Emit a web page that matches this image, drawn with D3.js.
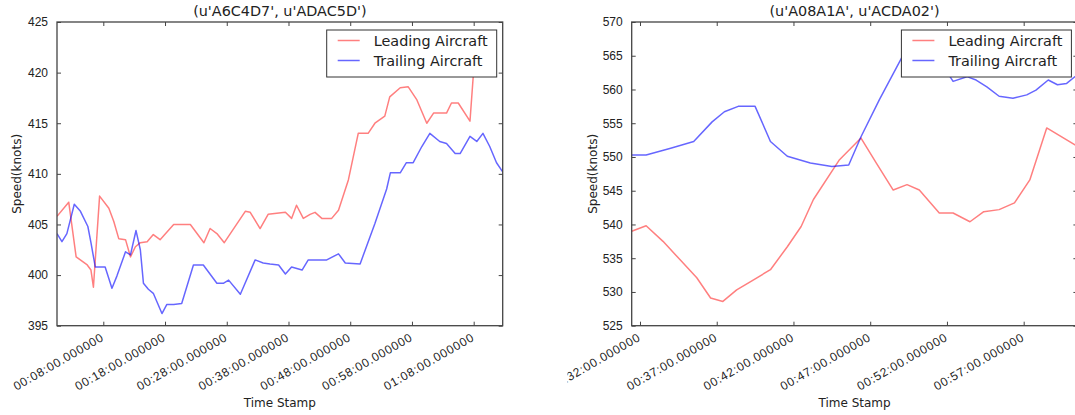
<!DOCTYPE html>
<html>
<head>
<meta charset="utf-8">
<script src="https://cdn.jsdelivr.net/npm/d3@7"></script>
<style>
  html, body { margin: 0; padding: 0; background: #fff; }
  svg { display: block; font-family: "DejaVu Sans", sans-serif; }
</style>
</head>
<body>
<svg id="chart" width="1075" height="415"></svg>
<script>
// ---- Pair 1: (u'A6C4D7', u'ADAC5D') — times in minutes, speeds in knots
const pair1Title = "(u'A6C4D7', u'ADAC5D')";
const pair1LeadTime = [0.5, 2.4, 3.6, 5.4, 6.0, 6.4, 7.4, 8.9, 9.7, 10.5, 11.6, 12.4, 13.2, 14.0, 15.1,
  16.1, 17.2, 19.4, 22.1, 24.3, 25.3, 26.4, 27.6, 31.0, 31.8, 33.4, 34.7, 37.5, 38.5, 39.3, 40.4,
  41.5, 42.3, 43.4, 45.0, 46.1, 47.7, 49.3, 50.9, 52.0, 53.6, 54.4, 56.1, 57.4, 58.8, 60.4, 61.5,
  63.6, 64.4, 65.5, 67.4, 68.4];
const pair1LeadSpeed = [405.8, 407.2, 401.8, 401.0, 400.5, 398.8, 407.8, 406.6, 405.3, 403.6, 403.5,
  401.8, 402.8, 403.2, 403.3, 404.0, 403.5, 405.0, 405.0, 403.2, 404.6, 404.1, 403.2, 406.3, 406.2,
  404.6, 406.0, 406.2, 405.6, 406.9, 405.6, 406.0, 406.2, 405.6, 405.6, 406.4, 409.4, 414.0, 414.0,
  415.0, 415.7, 417.6, 418.5, 418.6, 417.3, 415.0, 416.0, 416.0, 417.0, 417.0, 415.2, 423.6];
const pair1TrailTime = [0.5, 1.3, 2.1, 3.3, 4.3, 5.5, 6.0, 6.7, 7.5, 8.3, 9.4, 10.2, 11.6, 12.4, 13.3,
  14.0, 14.5, 15.3, 16.1, 17.5, 18.3, 19.4, 20.7, 22.6, 24.2, 26.4, 27.5, 28.3, 30.2, 32.6, 33.9,
  35.0, 36.4, 37.5, 38.5, 40.2, 41.2, 42.6, 44.2, 46.1, 47.2, 49.6, 52.0, 53.9, 54.5, 56.1, 57.1,
  58.2, 59.6, 60.9, 62.5, 63.6, 65.0, 65.8, 67.4, 68.5, 69.5, 70.6, 71.7, 72.7];
const pair1TrailSpeed = [404.1, 403.3, 404.1, 407.0, 406.3, 404.8, 403.2, 400.8, 400.8, 400.8, 398.7,
  399.9, 402.3, 402.0, 404.4, 402.5, 399.2, 398.6, 398.2, 396.2, 397.1, 397.1, 397.2, 401.0, 401.0,
  399.2, 399.2, 399.5, 398.1, 401.5, 401.2, 401.1, 401.0, 400.1, 400.8, 400.5, 401.5, 401.5, 401.5,
  402.1, 401.2, 401.1, 405.1, 408.5, 410.1, 410.1, 411.1, 411.1, 412.7, 414.0, 413.2, 413.0, 412.0,
  412.0, 413.7, 413.2, 414.0, 412.7, 411.1, 410.2];
const pair1SpeedTicks = [395, 400, 405, 410, 415, 420, 425];
const pair1TimeTicks = [8, 18, 28, 38, 48, 58, 68];

// ---- Pair 2: (u'A08A1A', u'ACDA02')
const pair2Title = "(u'A08A1A', u'ACDA02')";
const pair2LeadTime = [31.46, 32.4, 33.5, 34.6, 35.7, 36.6, 37.4, 38.3, 39.4, 40.5, 41.6, 42.5, 43.3,
  45.0, 46.4, 47.4, 48.5, 49.4, 50.2, 51.5, 52.4, 53.5, 54.4, 55.4, 56.4, 57.4, 58.5, 60.5];
const pair2LeadSpeed = [539.0, 539.8, 537.5, 534.8, 532.1, 529.1, 528.6, 530.3, 531.8, 533.3, 536.7,
  539.7, 543.7, 549.6, 552.8, 549.1, 545.1, 545.9, 545.1, 541.7, 541.7, 540.4, 541.9, 542.2, 543.2,
  546.6, 554.3, 551.6];
const pair2TrailTime = [31.46, 32.4, 34.0, 35.5, 36.7, 37.5, 38.4, 39.5, 40.5, 41.6, 43.1, 44.5, 45.6,
  46.4, 47.6, 49.1, 49.9, 51.2, 52.2, 52.4, 53.3, 53.9, 54.6, 55.4, 56.3, 57.2, 57.8, 58.6, 59.2,
  59.8, 60.5];
const pair2TrailSpeed = [550.3, 550.3, 551.3, 552.3, 555.2, 556.7, 557.5, 557.5, 552.3, 550.1, 549.1,
  548.6, 548.8, 553.0, 558.5, 564.9, 566.0, 564.0, 561.9, 561.2, 561.9, 561.4, 560.4, 559.0, 558.7,
  559.2, 559.9, 561.4, 560.7, 560.9, 562.2];
const pair2SpeedTicks = [525, 530, 535, 540, 545, 550, 555, 560, 565, 570];
const pair2TimeTicks = [32, 37, 42, 47, 52, 57];

const seriesNames = ["Leading Aircraft", "Trailing Aircraft"];
const seriesColors = ["rgba(255,0,0,0.5)", "rgba(0,0,255,0.6)"];

const svg = d3.select("#chart");
const pad2 = n => String(n).padStart(2, "0");
const fmtTime = m => pad2(Math.floor(m / 60)) + ":" + pad2(m % 60) + ":00.000000";

function drawPanel(cfg) {
  const { id, left, right, top, bottom, clipLeft } = cfg;
  const g = svg.append("g");
  if (clipLeft !== undefined) {
    svg.append("clipPath").attr("id", id + "-panel")
      .append("rect").attr("x", clipLeft).attr("y", 0).attr("width", 1075 - clipLeft).attr("height", 415);
    g.attr("clip-path", `url(#${id}-panel)`);
  }

  const allT = cfg.lead[0].concat(cfg.trail[0]);
  const x = d3.scaleLinear().domain(d3.extent(allT)).range([left, right]);
  const y = d3.scaleLinear().domain(d3.extent(cfg.yTicks)).range([bottom, top]);

  g.append("clipPath").attr("id", id + "-plot")
    .append("rect").attr("x", left).attr("y", top).attr("width", right - left).attr("height", bottom - top);

  const line = d3.line().x(d => x(d[0])).y(d => y(d[1]));
  const plot = g.append("g").attr("clip-path", `url(#${id}-plot)`);
  [cfg.lead, cfg.trail].forEach((s, i) => {
    plot.append("path")
      .datum(d3.zip(s[0], s[1]))
      .attr("d", line)
      .attr("fill", "none")
      .attr("stroke", seriesColors[i])
      .attr("stroke-width", 1.5)
      .attr("stroke-linejoin", "round");
  });

  // ticks pointing inward on all four sides
  const tickLen = 4;
  const axisColor = "#444";
  const bottomAxis = d3.axisBottom(x).tickValues(cfg.xTicks).tickSize(-tickLen).tickFormat(fmtTime);
  const gx = g.append("g").attr("transform", `translate(0,${bottom})`).call(bottomAxis);
  gx.select(".domain").remove();
  gx.selectAll(".tick line").attr("stroke", axisColor);
  gx.selectAll(".tick text")
    .attr("font-size", 12).attr("fill", "#222")
    .attr("letter-spacing", 0.8)
    .attr("text-anchor", "end")
    .attr("y", 0).attr("dy", 0)
    .attr("transform", "translate(1,14) rotate(-30)");

  const topAxis = d3.axisTop(x).tickValues(cfg.xTicks).tickSize(-tickLen).tickFormat("");
  const gt = g.append("g").attr("transform", `translate(0,${top})`).call(topAxis);
  gt.select(".domain").remove();
  gt.selectAll(".tick line").attr("stroke", axisColor);

  const leftAxis = d3.axisLeft(y).tickValues(cfg.yTicks).tickSize(-tickLen).tickPadding(9);
  const gy = g.append("g").attr("transform", `translate(${left},0)`).call(leftAxis);
  gy.select(".domain").remove();
  gy.selectAll(".tick line").attr("stroke", axisColor);
  gy.selectAll(".tick text").attr("font-size", 12).attr("fill", "#222");

  const rightAxis = d3.axisRight(y).tickValues(cfg.yTicks).tickSize(-tickLen).tickFormat("");
  const gr = g.append("g").attr("transform", `translate(${right},0)`).call(rightAxis);
  gr.select(".domain").remove();
  gr.selectAll(".tick line").attr("stroke", axisColor);

  // frame
  g.append("rect")
    .attr("x", left).attr("y", top).attr("width", right - left).attr("height", bottom - top)
    .attr("fill", "none").attr("stroke", axisColor).attr("stroke-width", 1.3);

  // title and axis labels
  g.append("text").attr("x", (left + right) / 2).attr("y", top - 6)
    .attr("text-anchor", "middle").attr("font-size", 14.4).attr("fill", "#222")
    .text(cfg.title);
  g.append("text").attr("x", (left + right) / 2).attr("y", 407)
    .attr("text-anchor", "middle").attr("font-size", 12).attr("fill", "#222")
    .text("Time Stamp");
  g.append("text")
    .attr("transform", `translate(${cfg.yLabelX},${(top + bottom) / 2}) rotate(-90)`)
    .attr("text-anchor", "middle").attr("font-size", 12).attr("fill", "#222")
    .text("Speed(knots)");

  // legend
  const lg = g.append("g").attr("transform", `translate(${right - 176},${top + 8})`);
  lg.append("rect").attr("x", 0).attr("y", 0).attr("width", 170).attr("height", 47)
    .attr("fill", "#fff").attr("stroke", "#333").attr("stroke-width", 1);
  seriesNames.forEach((name, i) => {
    const cy = 10.5 + i * 20;
    lg.append("line").attr("x1", 11).attr("x2", 33).attr("y1", cy).attr("y2", cy)
      .attr("stroke", seriesColors[i]).attr("stroke-width", 1.5);
    lg.append("text").attr("x", 47).attr("y", cy + 5.2)
      .attr("font-size", 14.4).attr("fill", "#222").text(name);
  });
}

drawPanel({
  id: "p1", left: 57, right: 502.7, top: 22, bottom: 325.7, yLabelX: 21,
  title: pair1Title,
  lead: [pair1LeadTime, pair1LeadSpeed], trail: [pair1TrailTime, pair1TrailSpeed],
  xTicks: pair1TimeTicks, yTicks: pair1SpeedTicks
});
drawPanel({
  id: "p2", left: 631.7, right: 1077.4, top: 22, bottom: 325.7, yLabelX: 597, clipLeft: 567.5,
  title: pair2Title,
  lead: [pair2LeadTime, pair2LeadSpeed], trail: [pair2TrailTime, pair2TrailSpeed],
  xTicks: pair2TimeTicks, yTicks: pair2SpeedTicks
});
</script>
</body>
</html>
